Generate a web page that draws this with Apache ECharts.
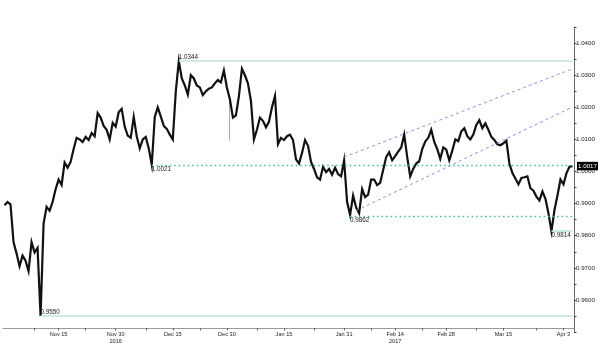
<!DOCTYPE html>
<html>
<head>
<meta charset="utf-8">
<script src="https://cdn.jsdelivr.net/npm/echarts@6/dist/echarts.min.js"></script>
<style>html,body{margin:0;padding:0;background:#fff;}#c{width:600px;height:345px;}</style>
</head>
<body>
<div id="c"></div>
<script>
// price path (one value per time bucket)
const closes = [
0.9895,0.9905,0.9898,0.9780,0.9745,0.9705,0.9738,0.9722,0.9690,0.9780,
0.9748,0.9762,0.9550,0.9838,0.9890,0.9878,0.9905,0.9945,0.9975,0.9958,
1.0028,1.0012,1.0030,1.0070,1.0105,1.0100,1.0092,1.0108,1.0098,1.0120,
1.0110,1.0182,1.0168,1.0142,1.0130,1.0100,1.0152,1.0140,1.0185,1.0195,
1.0140,1.0112,1.0105,1.0170,1.0110,1.0072,1.0100,1.0108,1.0072,1.0021,
1.0170,1.0200,1.0172,1.0142,1.0133,1.0115,1.0100,1.0250,1.0344,1.0290,
1.0268,1.0240,1.0300,1.0290,1.0268,1.0262,1.0238,1.0250,1.0258,1.0262,
1.0275,1.0285,1.0278,1.0315,1.0262,1.0225,1.0168,1.0175,1.0235,1.0320,
1.0300,1.0275,1.0220,1.0100,1.0130,1.0168,1.0158,1.0138,1.0155,1.0200,
1.0235,1.0085,1.0105,1.0098,1.0110,1.0115,1.0098,1.0038,1.0025,1.0058,
1.0098,1.0080,1.0030,1.0008,0.9982,0.9975,1.0015,0.9998,1.0008,0.9990,
1.0012,0.9992,0.9985,1.0035,0.9905,0.9865,0.9925,0.9888,0.9870,0.9945,
0.9920,0.9928,0.9975,0.9975,0.9958,0.9965,1.0005,1.0045,1.0060,1.0035,
1.0048,1.0062,1.0075,1.0115,1.0045,0.9985,1.0008,1.0025,1.0032,1.0070,
1.0093,1.0105,1.0130,1.0092,1.0070,1.0040,1.0075,1.0068,1.0035,1.0065,
1.0100,1.0095,1.0125,1.0135,1.0110,1.0100,1.0115,1.0145,1.0160,1.0135,
1.0150,1.0130,1.0108,1.0098,1.0085,1.0082,1.0088,1.0096,1.0025,0.9995,
0.9978,0.9960,0.9980,0.9982,0.9985,0.9948,0.9940,0.9922,0.9910,0.9938,
0.9915,0.9870,0.9814,0.9880,0.9925,0.9975,0.9960,0.9995,1.0015,1.0017
];
const categories = closes.map((_, i) => 'b' + i);

// x axis labels
const tickLabels = ['Nov 15', 'Nov 30\n2016', 'Dec 15', 'Dec 30', 'Jan 15', 'Jan 31', 'Feb 14\n2017', 'Feb 28', 'Mar 15', 'Apr 3'];
const tickIndex = [18, 37, 56, 74, 93, 113, 130, 147, 166, 186];
const minorTickIndex = [10, 27, 47, 65, 84, 103, 122, 139, 157, 177];

// y axis
const yMin = 0.95, yMax = 1.045, yStep = 0.005;

// horizontal levels
const levelValues = [1.0344, 1.0021, 0.9862, 0.9814, 0.9550];
const levelStart = [58, 49, 115, 182, 12];
const levelDotted = [false, true, true, false, false];
const levelAbove = [true, false, false, false, true];

// trend channel
const channelUpper = [[113, 1.0045], [189, 1.0320]];
const channelLower = [[117, 0.9878], [189, 1.0201]];

// isolated gap print
const gapIndex = 75, gapLow = 1.0096, gapHigh = 1.0225;

const lastPrice = 1.0017;

const FONT = 'Liberation Sans';
const lastIdx = closes.length - 1;

const markLines = [];
levelValues.forEach((v, k) => {
  markLines.push([
    {
      coord: [levelStart[k], v],
      lineStyle: levelDotted[k]
        ? { color: '#3dbf8c', width: 1.3, type: [1.5, 3] }
        : { color: '#bfe5d9', width: 1.6, type: 'solid' },
      label: {
        show: true,
        formatter: v.toFixed(4),
        position: levelAbove[k] ? 'insideStartTop' : 'insideStartBottom',
        distance: [0, 1],
        color: '#222', fontSize: 6.3, fontFamily: FONT
      }
    },
    { coord: [lastIdx, v] }
  ]);
});
[channelUpper, channelLower].forEach(c => {
  markLines.push([
    { coord: c[0], lineStyle: { color: '#9090dd', width: 1, type: [3, 3] }, label: { show: false } },
    { coord: c[1] }
  ]);
});

const gapData = closes.map((_, i) => i === gapIndex ? [gapHigh, gapHigh, gapLow, gapHigh] : '-');

const chart = echarts.init(document.getElementById('c'), null, { renderer: 'canvas' });
chart.setOption({
  animation: false,
  grid: { left: 3, right: 26, top: 27.1, bottom: 9.9, containLabel: false },
  xAxis: {
    type: 'category',
    data: categories,
    boundaryGap: true,
    offset: -4,
    axisLine: { lineStyle: { color: '#9a9a9a', width: 1 } },
    axisTick: {
      show: true, alignWithLabel: true, length: 2.5,
      lineStyle: { color: '#666' },
      interval: (i) => tickIndex.includes(i) || minorTickIndex.includes(i)
    },
    axisLabel: {
      interval: (i) => tickIndex.includes(i),
      formatter: (val, i) => { const k = tickIndex.indexOf(i); return k >= 0 ? tickLabels[k] : ''; },
      fontSize: 5.6, fontFamily: FONT, color: '#222', margin: 3, lineHeight: 7
    },
    splitLine: { show: false }
  },
  yAxis: {
    type: 'value',
    position: 'right',
    min: yMin, max: yMax, interval: yStep,
    axisLine: { show: true, lineStyle: { color: '#666', width: 1 } },
    axisTick: { show: true, length: 2.5, lineStyle: { color: '#444' } },
    axisLabel: {
      margin: 2,
      fontSize: 6.2, fontFamily: FONT, color: '#222',
      formatter: (v) => {
        const c = Math.round(v * 1000);
        if (c % 10 !== 0 || c < 960 || c > 1040) return '';
        return v.toFixed(4);
      }
    },
    splitLine: { show: false }
  },
  series: [
    {
      type: 'candlestick',
      data: gapData,
      barWidth: 1,
      itemStyle: { color: '#aaa', color0: '#aaa', borderColor: '#aaa', borderColor0: '#aaa', borderWidth: 1 },
      z: 1
    },
    {
      type: 'line',
      data: closes,
      symbol: 'none',
      lineStyle: { color: '#111', width: 2.2, join: 'miter' },
      z: 3,
      markLine: {
        silent: true, symbol: ['none', 'none'], animation: false,
        data: markLines
      },
      markPoint: {
        silent: true, animation: false,
        data: [{
          coord: [lastIdx, lastPrice],
          symbol: 'rect', symbolSize: [21, 8.5], symbolOffset: [15, 0],
          itemStyle: { color: '#000' },
          label: { show: true, position: 'inside', offset: [0, 0], formatter: lastPrice.toFixed(4), color: '#fff', fontSize: 6.2, fontFamily: FONT }
        }]
      }
    }
  ]
});
</script>
</body>
</html>
